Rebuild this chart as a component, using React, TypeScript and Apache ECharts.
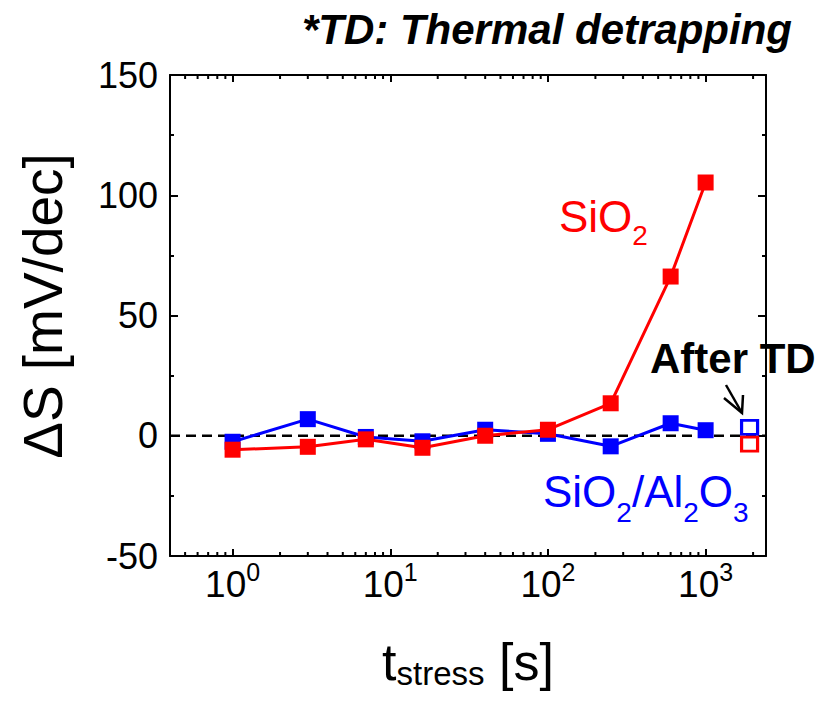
import React, { useEffect, useRef } from 'react';
import * as echarts from 'echarts';

// ---- data ----
const stressTimes = [1, 3, 7, 16, 40, 100, 250, 600, 1000];
const deltaS_SiO2 = [-5.8, -4.6, -1.5, -5, 0, 2.5, 13.5, 66.2, 105.3];
const deltaS_SiO2Al2O3 = [-2.5, 6.9, -0.5, -2.3, 2.5, 0.8, -4.4, 5.2, 2.3];
const afterTDTime = [1900];
const afterTD_SiO2 = [-3.5];
const afterTD_SiO2Al2O3 = [3.5];
const yTickValues = [-50, 0, 50, 100, 150];
const referenceLevel = [0];
const decadeStarts = [0.1, 1, 10, 100, 1000];
const minorMultipliers = [2, 3, 4, 5, 6, 7, 8, 9];

const X_MIN = 0.401;
const X_MAX = 2415;
const Y_MIN = yTickValues[0];
const Y_MAX = yTickValues[yTickValues.length - 1];
const Y_STEP = yTickValues[1] - yTickValues[0];

const FONT = '"Liberation Sans", Arial, Helvetica, sans-serif';
const RED = '#ff0000';
const BLUE = '#0000ff';

const minorTickValues: number[] = [];
decadeStarts.forEach((d) => {
  minorMultipliers.forEach((m) => {
    const v = d * m;
    if (v > X_MIN * 1.05 && v < X_MAX * 0.98) minorTickValues.push(v);
  });
});

const zip = (xs: number[], ys: number[]) => xs.map((x, i) => [x, ys[i]]);

export default function App() {
  const ref = useRef<HTMLDivElement>(null);
  useEffect(() => {
    if (!ref.current) return;
    const chart = echarts.init(ref.current, null, { renderer: 'svg' });

    const axisLineStyle = { color: '#000', width: 2 };
    const xAxisBase = {
      type: 'log' as const,
      logBase: 10,
      min: X_MIN,
      max: X_MAX,
      splitLine: { show: false },
      axisLine: { show: true, onZero: false, lineStyle: axisLineStyle },
      axisTick: { show: true, inside: true, length: 7, lineStyle: axisLineStyle },
    };
    const yAxisBase = {
      type: 'value' as const,
      min: Y_MIN,
      max: Y_MAX,
      interval: Y_STEP,
      splitLine: { show: false },
      axisLine: { show: true, onZero: false, lineStyle: axisLineStyle },
      axisTick: { show: true, inside: true, length: 8, lineStyle: axisLineStyle },
      minorTick: { show: true, splitNumber: 2, length: 4, lineStyle: axisLineStyle },
    };

    const filledLine = (name: string, color: string, ys: number[], z: number) => ({
      name,
      type: 'line',
      xAxisIndex: 0,
      yAxisIndex: 0,
      data: zip(stressTimes, ys),
      symbol: 'rect',
      symbolSize: 16,
      lineStyle: { color, width: 3 },
      itemStyle: { color, opacity: 1 },
      z,
    });

    const openPoint = (name: string, color: string, ys: number[], z: number) => ({
      name,
      type: 'scatter',
      xAxisIndex: 0,
      yAxisIndex: 0,
      data: zip(afterTDTime, ys),
      symbol: 'rect',
      symbolSize: [16, 14],
      itemStyle: { color: 'rgba(255,255,255,0)', borderColor: color, borderWidth: 3, opacity: 1 },
      z,
    });

    chart.setOption({
      animation: false,
      backgroundColor: '#ffffff',
      grid: { left: 170, right: 60, top: 75, bottom: 147, outerBoundsMode: 'none', containLabel: false },
      xAxis: [
        {
          ...xAxisBase,
          position: 'bottom',
          axisLabel: {
            show: true,
            margin: 7,
            showMinLabel: false,
            showMaxLabel: false,
            formatter: (v: number) => {
              const e = Math.log10(v);
              const r = Math.round(e);
              if (Math.abs(e - r) > 1e-6) return '';
              return `{b|10}{s|${r}}`;
            },
            rich: {
              b: { fontFamily: FONT, fontSize: 37, color: '#000', lineHeight: 42 },
              s: { fontFamily: FONT, fontSize: 25, color: '#000', lineHeight: 42, padding: [0, 0, 24, 0] },
            },
          },
        },
        {
          ...xAxisBase,
          position: 'top',
          axisLabel: { show: false },
        },
      ],
      yAxis: [
        {
          ...yAxisBase,
          position: 'left',
          axisLabel: { show: true, margin: 12, fontFamily: FONT, fontSize: 36, color: '#000' },
        },
        {
          ...yAxisBase,
          position: 'right',
          axisLabel: { show: false },
        },
      ],
      series: [
        {
          name: 'minor ticks',
          type: 'custom',
          xAxisIndex: 0,
          yAxisIndex: 0,
          silent: true,
          clip: false,
          data: minorTickValues.map((v) => [v, 0]),
          renderItem: (params: any, api: any) => {
            const v = api.value(0);
            const b = api.coord([v, Y_MIN]);
            const t = api.coord([v, Y_MAX]);
            const st = { stroke: '#000', lineWidth: 2 };
            return {
              type: 'group',
              children: [
                { type: 'line', shape: { x1: b[0], y1: b[1], x2: b[0], y2: b[1] - 4 }, style: st },
                { type: 'line', shape: { x1: t[0], y1: t[1], x2: t[0], y2: t[1] + 4 }, style: st },
              ],
            };
          },
          z: 5,
        },
        {
          name: 'zero level',
          type: 'line',
          xAxisIndex: 0,
          yAxisIndex: 0,
          silent: true,
          symbol: 'none',
          data: [[X_MIN, referenceLevel[0]], [X_MAX, referenceLevel[0]]],
          lineStyle: { color: '#000', width: 2.5, type: [10, 6] },
          z: 1,
        },
        filledLine('SiO2/Al2O3', BLUE, deltaS_SiO2Al2O3, 3),
        filledLine('SiO2', RED, deltaS_SiO2, 4),
        openPoint('SiO2/Al2O3 after TD', BLUE, afterTD_SiO2Al2O3, 5),
        openPoint('SiO2 after TD', RED, afterTD_SiO2, 6),
      ],
      graphic: [
        {
          type: 'text',
          x: 792,
          y: 29,
          style: {
            text: '*TD: Thermal detrapping',
            font: `italic bold 42px ${FONT}`,
            fill: '#000',
            align: 'right',
            verticalAlign: 'middle',
          },
        },
        {
          type: 'text',
          x: 43,
          y: 306,
          rotation: Math.PI / 2,
          style: {
            text: 'ΔS [mV/dec]',
            font: `55px ${FONT}`,
            fill: '#000',
            align: 'center',
            verticalAlign: 'middle',
          },
        },
        {
          type: 'text',
          x: 468,
          y: 662,
          style: {
            text: '{m|t}{s|stress}{m| [s]}',
            align: 'center',
            verticalAlign: 'middle',
            rich: {
              m: { fontFamily: FONT, fontSize: 52, fill: '#000', color: '#000', lineHeight: 58 },
              s: { fontFamily: FONT, fontSize: 33, fill: '#000', color: '#000', lineHeight: 58, padding: [22, 0, 0, 0] },
            },
          },
        },
        {
          type: 'text',
          x: 559,
          y: 216,
          style: {
            text: '{m|SiO}{s|2}',
            align: 'left',
            verticalAlign: 'middle',
            rich: {
              m: { fontFamily: FONT, fontSize: 44, fill: RED, color: RED, lineHeight: 50 },
              s: { fontFamily: FONT, fontSize: 28, fill: RED, color: RED, lineHeight: 50, padding: [38, 0, 0, 0] },
            },
          },
        },
        {
          type: 'text',
          x: 543,
          y: 491,
          style: {
            text: '{m|SiO}{s|2}{m|/Al}{s|2}{m|O}{s|3}',
            align: 'left',
            verticalAlign: 'middle',
            rich: {
              m: { fontFamily: FONT, fontSize: 44, fill: BLUE, color: BLUE, lineHeight: 50 },
              s: { fontFamily: FONT, fontSize: 28, fill: BLUE, color: BLUE, lineHeight: 50, padding: [42, 0, 0, 0] },
            },
          },
        },
        {
          type: 'text',
          x: 650,
          y: 358,
          z: 0,
          style: {
            text: 'After TD',
            font: `bold 42px ${FONT}`,
            fill: '#000',
            align: 'left',
            verticalAlign: 'middle',
          },
        },
        {
          type: 'group',
          children: [
            { type: 'line', shape: { x1: 726, y1: 385, x2: 742, y2: 413 }, style: { stroke: '#000', lineWidth: 2.5 } },
            { type: 'polyline', shape: { points: [[724, 398], [742, 413], [743, 395]] }, style: { stroke: '#000', lineWidth: 2.5, fill: null } },
          ],
        },
      ],
    });
    return () => chart.dispose();
  }, []);
  return <div ref={ref} style={{ position: 'fixed', left: 0, top: 0, width: 826, height: 703 }} />;
}
